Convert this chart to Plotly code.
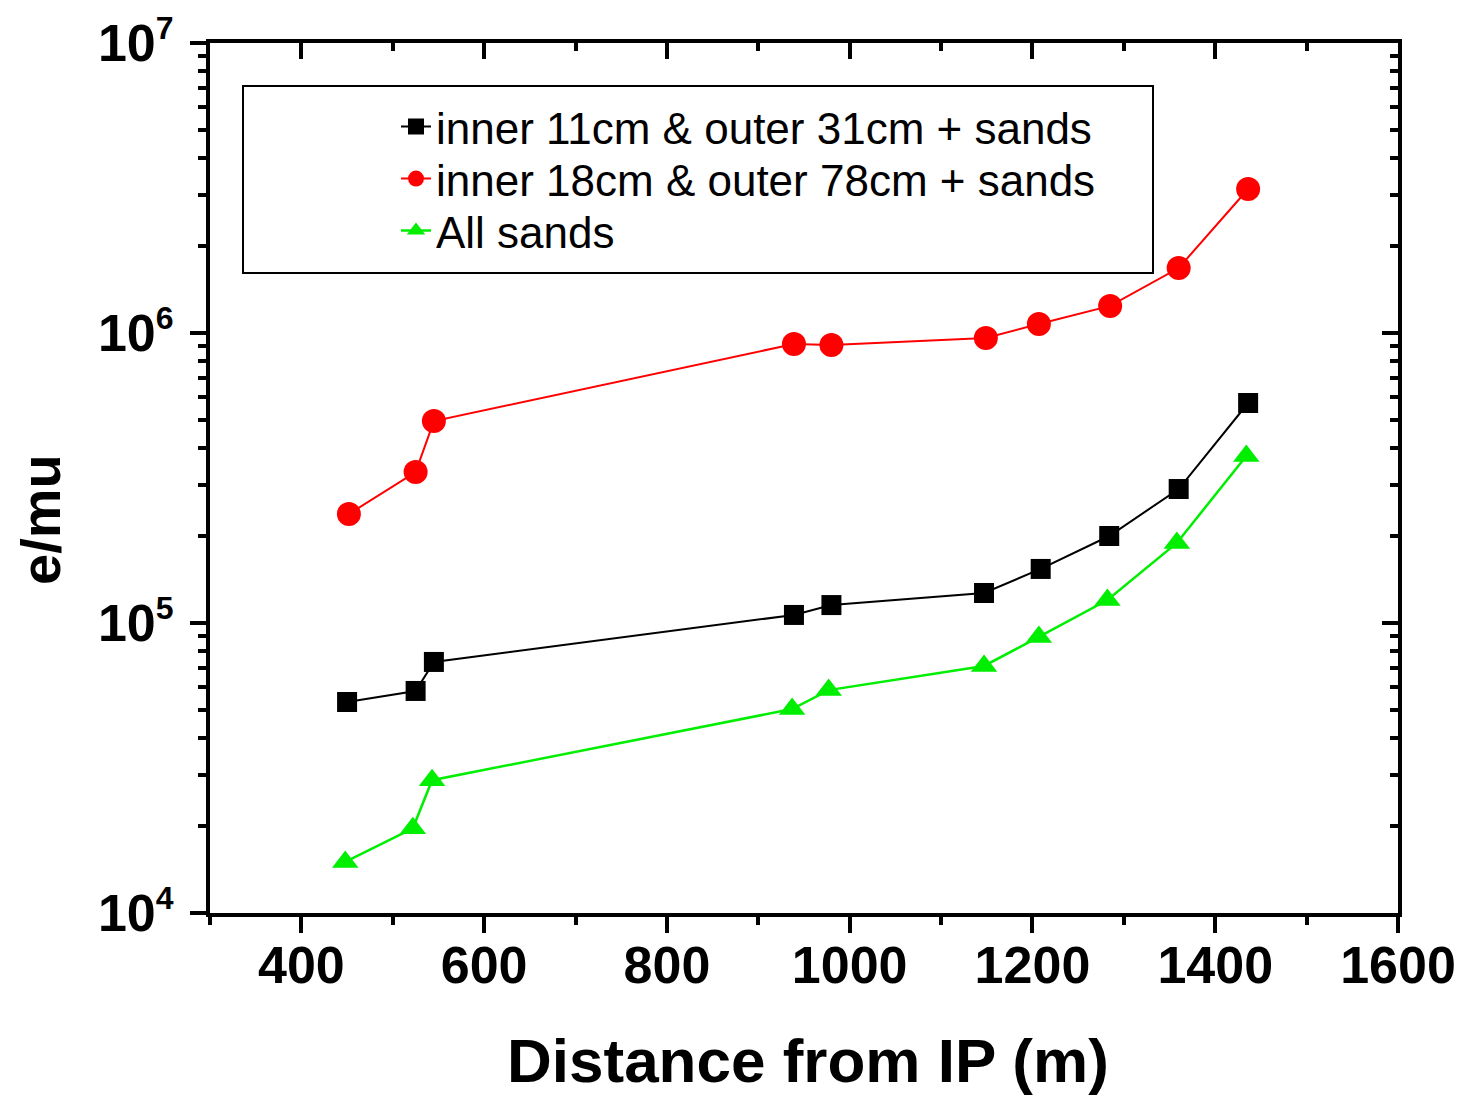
import plotly.graph_objects as go

# ---- data ----
x_black = [450, 525, 545, 939, 980, 1147, 1209, 1284, 1360, 1436]
y_black = [53400, 58300, 73400, 106600, 115300, 126900, 153600, 199500, 289700, 573600]

x_red = [452, 525, 545, 939, 980, 1149, 1207, 1285, 1360, 1436]
y_red = [237600, 331600, 497000, 916000, 909000, 961000, 1074000, 1240000, 1675000, 3138000]

x_green = [448, 522, 543, 937, 977, 1147, 1207, 1282, 1358, 1434]
y_green = [15000, 19600, 28700, 50500, 58700, 71100, 89500, 120000, 188800, 376700]

names = ["inner 11cm & outer 31cm + sands",
         "inner 18cm & outer 78cm + sands",
         "All sands"]

x_ticks = [400, 600, 800, 1000, 1200, 1400, 1600]
y_tick_exp = [4, 5, 6, 7]
y_minor = [m * 10 ** e for e in [4, 5, 6] for m in range(2, 10)]

FONT = "Arial, Liberation Sans, sans-serif"

fig = go.Figure()
fig.add_trace(go.Scatter(x=x_black, y=y_black, name=names[0], mode="lines+markers",
                         legend="legend",
                         line=dict(color="black", width=2),
                         marker=dict(symbol="square", size=20, color="black",
                                     line=dict(color="black", width=0))))
fig.add_trace(go.Scatter(x=x_red, y=y_red, name=names[1], mode="lines+markers",
                         legend="legend2",
                         line=dict(color="#ff0000", width=2),
                         marker=dict(symbol="circle", size=24, color="#ff0000",
                                     line=dict(width=0))))
fig.add_trace(go.Scatter(x=x_green, y=y_green, name=names[2], mode="lines+markers",
                         legend="legend3",
                         line=dict(color="#00ee00", width=2.5),
                         marker=dict(symbol="triangle-up", size=23, color="#00ee00",
                                     line=dict(width=0))))
# invisible copy so the mirrored (top/right) axes get drawn
fig.add_trace(go.Scatter(x=x_green, y=y_green, xaxis="x2", yaxis="y2", mode="markers",
                         marker=dict(opacity=0), showlegend=False, hoverinfo="skip"))

axis_common = dict(showgrid=False, zeroline=False, showline=True, linecolor="black",
                   linewidth=4, tickcolor="black", tickwidth=3.5, automargin=False)

PW, PH, L, T = 1188, 870, 210, 43
R = 1463 - L - PW


def px_x(px):
    return (px - L) / PW


def px_y(py):
    return 1 - (py - T) / PH


leg_common = dict(xanchor="left", yanchor="middle", bgcolor="rgba(0,0,0,0)",
                  borderwidth=0, font=dict(family=FONT, size=44, color="black"))

fig.update_layout(
    width=1463, height=1097,
    paper_bgcolor="white", plot_bgcolor="white",
    margin=dict(l=L, r=R, t=T, b=1097 - T - PH),
    font=dict(family=FONT, color="black"),
    showlegend=True,
    legend=dict(x=px_x(396), y=px_y(127), **leg_common),
    legend2=dict(x=px_x(396), y=px_y(179), **leg_common),
    legend3=dict(x=px_x(396), y=px_y(231), **leg_common),
    xaxis=dict(range=[300, 1600], tickmode="array", tickvals=x_ticks,
               ticks="outside", ticklen=16, ticklabelstandoff=-12,
               tickfont=dict(family=FONT, size=52, color="black", weight="bold"),
               minor=dict(dtick=100, tick0=300, ticks="outside", ticklen=8,
                          tickwidth=3.5, tickcolor="black"),
               **axis_common),
    xaxis2=dict(range=[300, 1600], overlaying="x", side="top", anchor="y",
                tickmode="array", tickvals=x_ticks, ticks="inside", ticklen=16,
                showticklabels=False,
                minor=dict(dtick=100, tick0=300, ticks="inside", ticklen=8,
                           tickwidth=3.5, tickcolor="black"),
                **axis_common),
    yaxis=dict(type="log", range=[4, 7], tickmode="array",
               tickvals=[10 ** e for e in y_tick_exp],
               ticktext=["10<sup><span style='font-size:32px'>%d</span></sup>" % e for e in y_tick_exp],
               ticks="outside", ticklen=16, ticklabelstandoff=6,
               tickfont=dict(family=FONT, size=52, color="black", weight="bold"),
               minor=dict(tickmode="array", tickvals=y_minor, ticks="outside",
                          ticklen=8, tickwidth=3.5, tickcolor="black"),
               **axis_common),
    yaxis2=dict(type="log", range=[4, 7], overlaying="y", side="right", anchor="x",
                tickmode="array", tickvals=[10 ** e for e in y_tick_exp],
                ticks="inside", ticklen=16, showticklabels=False,
                minor=dict(tickmode="array", tickvals=y_minor, ticks="inside",
                           ticklen=8, tickwidth=3.5, tickcolor="black"),
                **axis_common),
)

# legend frame
fig.add_shape(type="rect", xref="paper", yref="paper",
              x0=px_x(243), x1=px_x(1153), y0=px_y(273), y1=px_y(86),
              line=dict(color="black", width=2), fillcolor="rgba(0,0,0,0)")

# axis titles
fig.add_annotation(text="<b>Distance from IP (m)</b>", xref="paper", yref="paper",
                   x=px_x(808), y=px_y(1060),
                   xanchor="center", yanchor="middle", showarrow=False,
                   font=dict(family=FONT, size=62, color="black"))
fig.add_annotation(text="<b>e/mu</b>", xref="paper", yref="paper",
                   x=px_x(40), y=px_y(520),
                   xanchor="center", yanchor="middle", showarrow=False, textangle=-90,
                   font=dict(family=FONT, size=56, color="black"))

fig.write_html("out.html")
